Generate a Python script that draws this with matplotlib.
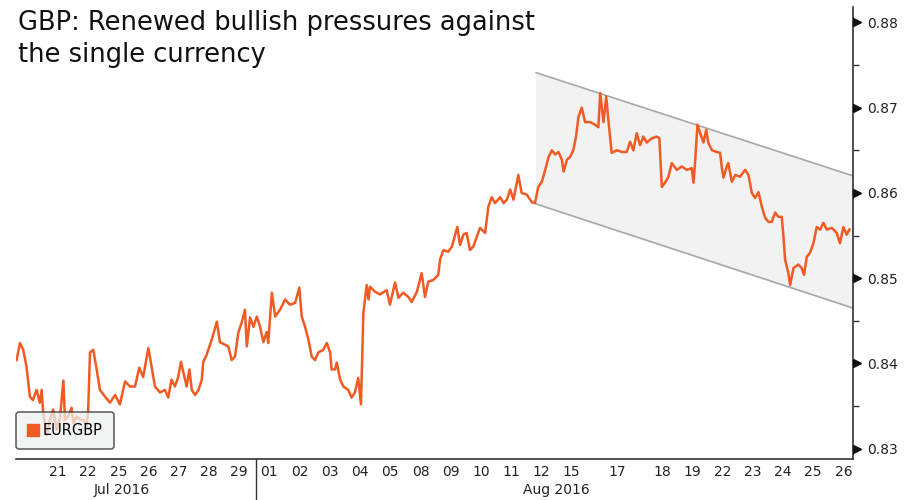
import matplotlib.pyplot as plt
import matplotlib.transforms as mtransforms
from matplotlib.lines import Line2D

# EURGBP, intraday, x = trading day index (0 = 21 Jul 2016)
dias = [-1.37, -1.26, -1.15, -1.04, -0.93, -0.83, -0.71, -0.60, -0.54, -0.49,
        -0.37, -0.26, -0.16, -0.04, 0.07, 0.18, 0.23, 0.34, 0.45, 0.51,
        0.62, 0.73, 0.84, 0.95, 1.00, 1.06, 1.17, 1.28, 1.39, 1.56,
        1.72, 1.89, 2.05, 2.22, 2.38, 2.55, 2.69, 2.82, 2.99, 3.10,
        3.21, 3.38, 3.54, 3.65, 3.76, 3.87, 3.98, 4.07, 4.15, 4.26,
        4.35, 4.43, 4.54, 4.65, 4.76, 4.81, 4.92, 5.09, 5.26, 5.36,
        5.53, 5.64, 5.75, 5.86, 5.97, 6.08, 6.19, 6.25, 6.36, 6.47,
        6.58, 6.69, 6.80, 6.91, 6.96, 7.08, 7.19, 7.35, 7.52, 7.68,
        7.85, 7.99, 8.07, 8.18, 8.29, 8.40, 8.51, 8.62, 8.78, 8.90,
        9.01, 9.06, 9.17, 9.23, 9.34, 9.45, 9.61, 9.72, 9.83, 9.94,
        10.03, 10.11, 10.22, 10.28, 10.33, 10.50, 10.66, 10.88, 10.99, 11.16,
        11.27, 11.43, 11.60, 11.71, 11.88, 12.04, 12.15, 12.26, 12.43, 12.59,
        12.65, 12.76, 12.92, 13.04, 13.15, 13.22, 13.31, 13.42, 13.53, 13.64,
        13.75, 13.86, 13.97, 14.14, 14.25, 14.36, 14.47, 14.64, 14.75, 14.86,
        14.97, 15.08, 15.24, 15.35, 15.52, 15.69, 15.79, 15.90, 16.02, 16.13,
        16.24, 16.35, 16.46, 16.57, 16.68, 16.74, 16.85, 16.95, 17.06, 17.15,
        17.23, 17.34, 17.45, 17.62, 17.78, 17.89, 17.95, 18.06, 18.15, 18.22,
        18.33, 18.50, 18.67, 18.83, 18.94, 19.05, 19.16, 19.27, 19.38, 19.49,
        19.66, 19.82, 19.91, 19.99, 20.10, 20.21, 20.32, 20.49, 20.65, 20.82,
        20.98, 21.04, 21.09, 21.17, 21.26, 21.37, 21.46, 21.53, 21.65, 21.81,
        21.92, 21.98, 22.03, 22.14, 22.19, 22.31, 22.42, 22.58, 22.75, 22.86,
        22.97, 23.08, 23.19, 23.30, 23.41, 23.52, 23.63, 23.74, 23.85, 23.96,
        24.02, 24.07, 24.18, 24.24, 24.35, 24.51, 24.62, 24.70, 24.79, 24.90,
        25.01, 25.12, 25.23, 25.34, 25.45, 25.62, 25.78, 25.89, 26.00, 26.11,
        26.20]
eurgbp = [0.8404, 0.8424, 0.8416, 0.8396, 0.8361, 0.8357, 0.8369, 0.8354, 0.8369, 0.8342,
          0.8316, 0.8334, 0.8346, 0.8322, 0.8338, 0.8380, 0.8334, 0.8338, 0.8348, 0.8330,
          0.8338, 0.8334, 0.8334, 0.8326, 0.8346, 0.8413, 0.8416, 0.8393, 0.8369, 0.8361,
          0.8354, 0.8363, 0.8352, 0.8379, 0.8373, 0.8373, 0.8395, 0.8384, 0.8418, 0.8396,
          0.8373, 0.8366, 0.8369, 0.8360, 0.8381, 0.8373, 0.8384, 0.8402, 0.8390, 0.8373,
          0.8393, 0.8369, 0.8363, 0.8369, 0.8381, 0.8402, 0.8410, 0.8428, 0.8449, 0.8425,
          0.8422, 0.8420, 0.8404, 0.8408, 0.8436, 0.8448, 0.8463, 0.8420, 0.8454, 0.8443,
          0.8455, 0.8443, 0.8425, 0.8437, 0.8424, 0.8483, 0.8455, 0.8463, 0.8475, 0.8469,
          0.8471, 0.8489, 0.8455, 0.8443, 0.8428, 0.8408, 0.8404, 0.8413, 0.8416, 0.8424,
          0.8413, 0.8393, 0.8393, 0.8401, 0.8381, 0.8373, 0.8369, 0.8360, 0.8366, 0.8383,
          0.8352, 0.8459, 0.8492, 0.8475, 0.8490, 0.8484, 0.8481, 0.8486, 0.8469, 0.8495,
          0.8477, 0.8483, 0.8478, 0.8472, 0.8484, 0.8506, 0.8478, 0.8496, 0.8498, 0.8504,
          0.8522, 0.8533, 0.8531, 0.8537, 0.8551, 0.8560, 0.8539, 0.8551, 0.8553, 0.8533,
          0.8537, 0.8548, 0.8559, 0.8553, 0.8584, 0.8595, 0.8588, 0.8595, 0.8588, 0.8592,
          0.8604, 0.8592, 0.8621, 0.8600, 0.8598, 0.8589, 0.8588, 0.8607, 0.8613, 0.8627,
          0.8642, 0.8650, 0.8645, 0.8648, 0.8639, 0.8625, 0.8639, 0.8642, 0.8650, 0.8666,
          0.8689, 0.8700, 0.8683, 0.8683, 0.8680, 0.8677, 0.8717, 0.8683, 0.8713, 0.8686,
          0.8647, 0.8650, 0.8648, 0.8648, 0.8660, 0.8650, 0.8670, 0.8656, 0.8666, 0.8659,
          0.8664, 0.8666, 0.8664, 0.8607, 0.8612, 0.8619, 0.8635, 0.8627, 0.8631, 0.8627,
          0.8629, 0.8612, 0.8635, 0.8680, 0.8670, 0.8659, 0.8674, 0.8659, 0.8650, 0.8648,
          0.8647, 0.8629, 0.8618, 0.8631, 0.8635, 0.8613, 0.8621, 0.8619, 0.8627, 0.8621,
          0.8600, 0.8594, 0.8601, 0.8584, 0.8571, 0.8566, 0.8566, 0.8577, 0.8572, 0.8572,
          0.8548, 0.8522, 0.8506, 0.8492, 0.8512, 0.8516, 0.8512, 0.8504, 0.8525, 0.8530,
          0.8541, 0.8560, 0.8557, 0.8565, 0.8557, 0.8559, 0.8553, 0.8541, 0.8560, 0.8551,
          0.8557]

# canal bajista (inicio / fin)
canal_x = [15.83, 26.32]
canal_sup = [0.8741, 0.8620]
canal_inf = [0.8587, 0.8465]

# etiquetas del eje x
etiquetas_dias = ['21', '22', '25', '26', '27', '28', '29', '01', '02', '03', '04', '05', '08',
                  '09', '10', '11', '12', '15', '17', '18', '19', '22', '23', '24', '25', '26']
pos_dias = [0, 1, 2, 3, 4, 5, 6, 7, 8, 9, 10, 11, 12, 13, 14, 15, 16, 17, 18.5,
            20, 21, 22, 23, 24, 25, 26]
meses = ['Jul 2016', 'Aug 2016']
pos_meses = [2.1, 16.5]
corte_mes = 6.57

niveles = [0.83, 0.84, 0.85, 0.86, 0.87, 0.88]
niveles_menores = [0.835, 0.845, 0.855, 0.865, 0.875]

naranja = '#f15a22'
oscuro = '#333333'

fig = plt.figure(figsize=(9.12, 5.0), dpi=100)
ax = fig.add_axes([16 / 912, 41 / 500, 837 / 912, 452 / 500])

# canal gris
ax.fill_between(canal_x, canal_inf, canal_sup, color='#f2f2f2', zorder=1)
ax.plot(canal_x, canal_sup, color='#a8a8a8', lw=1.2, zorder=2)
ax.plot(canal_x, canal_inf, color='#a8a8a8', lw=1.2, zorder=2)

ax.plot(dias, eurgbp, color=naranja, lw=1.8, zorder=3)

ax.set_xlim(-1.39, 26.32)
ax.set_ylim(0.8288, 0.8818)

for lado in ['left', 'top']:
    ax.spines[lado].set_visible(False)
for lado in ['right', 'bottom']:
    ax.spines[lado].set_color(oscuro)
    ax.spines[lado].set_linewidth(1.2)

# eje y a la derecha con triangulos
ax.yaxis.tick_right()
ax.set_yticks(niveles)
ax.set_yticklabels([f'{v:.2f}' for v in niveles], fontsize=10, color='#222222')
ax.set_yticks(niveles_menores, minor=True)
ax.tick_params(axis='y', which='major', length=0, pad=10)
ax.tick_params(axis='y', which='minor', length=4, width=1, color=oscuro, direction='out')
trans = mtransforms.offset_copy(ax.get_yaxis_transform(), fig=fig, x=4, y=0, units='dots')
ax.plot([1] * len(niveles), niveles, linestyle='none', marker='>', markersize=6,
        color='#111111', transform=trans, clip_on=False, zorder=5)

# eje x
ax.set_xticks(pos_dias)
ax.set_xticklabels(etiquetas_dias, fontsize=10, color='#222222')
ax.tick_params(axis='x', length=0, pad=4)
for m, p in zip(meses, pos_meses):
    ax.text(p, -0.068, m, transform=ax.get_xaxis_transform(), ha='center', va='center',
            fontsize=10, color='#222222')
ax.plot([corte_mes, corte_mes], [0, -0.1], transform=ax.get_xaxis_transform(),
        color=oscuro, lw=1, clip_on=False)

# leyenda
mango = Line2D([], [], linestyle='none', marker='s', markersize=9, color=naranja)
leg = ax.legend([mango], ['EURGBP'], loc='lower left', bbox_to_anchor=(0, 0.022),
                borderaxespad=0, fontsize=10.5, handlelength=0.8, handletextpad=0.3,
                borderpad=0.75, fancybox=True, framealpha=0.75)
leg.get_frame().set_facecolor('#eef0f0')
leg.get_frame().set_edgecolor(oscuro)
leg.get_frame().set_linewidth(1.2)

fig.text(18 / 912, 1 - 10 / 500, 'GBP: Renewed bullish pressures against\nthe single currency',
         ha='left', va='top', fontsize=18.5, color='#111111', linespacing=1.32)

fig.savefig('out.png', dpi=100)
